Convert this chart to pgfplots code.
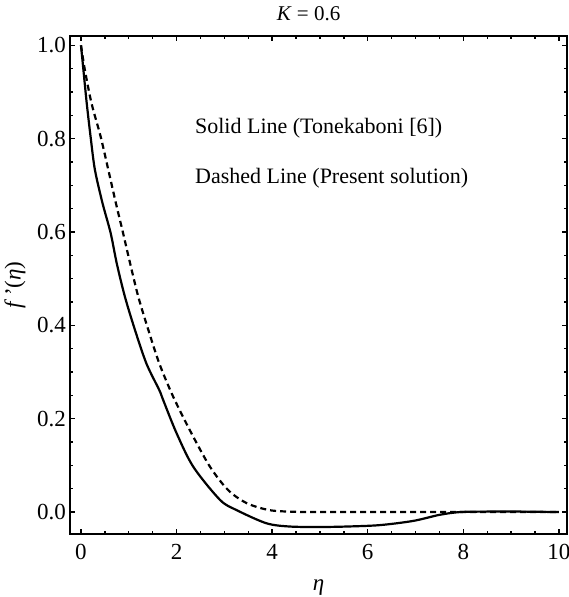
\documentclass[border=0pt]{standalone}
\usepackage{fontspec}
\setmainfont{Liberation Serif}
\usepackage{pgfplots}
\pgfplotsset{compat=1.18}

\begin{document}
\begin{tikzpicture}
\begin{axis}[
  scale only axis,
  width=248.5pt, height=249pt,
  xmin=-0.23, xmax=10.17,
  ymin=-0.047, ymax=1.02,
  xtick={0,2,4,6,8,10},
  ytick={0,0.2,0.4,0.6,0.8,1.0},
  minor x tick num=3,
  minor y tick num=3,
  yticklabel style={/pgf/number format/fixed,/pgf/number format/fixed zerofill,/pgf/number format/precision=1,xshift=1.5pt},
  xticklabel style={yshift=-1.5pt},
  /pgf/number format/assume math mode=true,
  tick label style={font=\fontsize{11.5}{13}\selectfont},
  tick align=inside,
  major tick length=2.4pt,
  minor tick length=1.5pt,
  every tick/.style={black,line width=0.7pt},
  axis line style={line width=1pt},
  xlabel={\textit{η}},
  ylabel={\textit{f}\,'(\textit{η})},
  label style={font=\fontsize{11.5}{13}\selectfont},
  xlabel style={yshift=-3pt},
  ylabel style={yshift=-1pt},
  title={\textit{K} = 0.6},
  title style={font=\fontsize{10.5}{12}\selectfont,at={(axis description cs:0.48,1)},yshift=-2pt},
]
\addplot[black,line width=1.1pt,smooth] coordinates {
  (0,1.0) (0.05,0.948) (0.12,0.876) (0.20,0.805) (0.29,0.734) (0.45,0.662)
  (0.62,0.598) (0.75,0.532) (0.92,0.461) (1.13,0.390) (1.37,0.318)
  (1.64,0.261) (1.72,0.240) (2.0,0.169) (2.35,0.097) (2.91,0.026)
  (3.26,0.004) (3.88,-0.024) (4.37,-0.031) (5.0,-0.032) (5.56,-0.031)
  (6.25,-0.028) (6.95,-0.019) (7.5,-0.006) (7.93,0.0) (8.5,0.001)
  (9.2,0.001) (10,0.0)
};
\addplot[black,line width=1.1pt,smooth,dash pattern=on 3pt off 2pt] coordinates {
  (0,1.0) (0.08,0.948) (0.22,0.876) (0.41,0.805) (0.57,0.734) (0.73,0.662)
  (0.88,0.598) (1.03,0.532) (1.20,0.461) (1.41,0.390) (1.64,0.318)
  (1.93,0.247) (2.30,0.171) (2.70,0.097) (3.08,0.047) (3.47,0.019)
  (3.95,0.004) (4.5,0.0005) (5,0) (6,0) (8,0) (10,0)
};
\node[anchor=west,inner sep=0pt,font=\fontsize{11}{13}\selectfont] at (axis cs:2.38,0.822) {Solid Line (Tonekaboni [6])};
\node[anchor=west,inner sep=0pt,font=\fontsize{11}{13}\selectfont] at (axis cs:2.38,0.715) {Dashed Line (Present solution)};
\end{axis}
\pgfresetboundingbox
\path[use as bounding box] (-35pt,-31.5pt) rectangle (249pt,267pt);
\end{tikzpicture}
\end{document}
